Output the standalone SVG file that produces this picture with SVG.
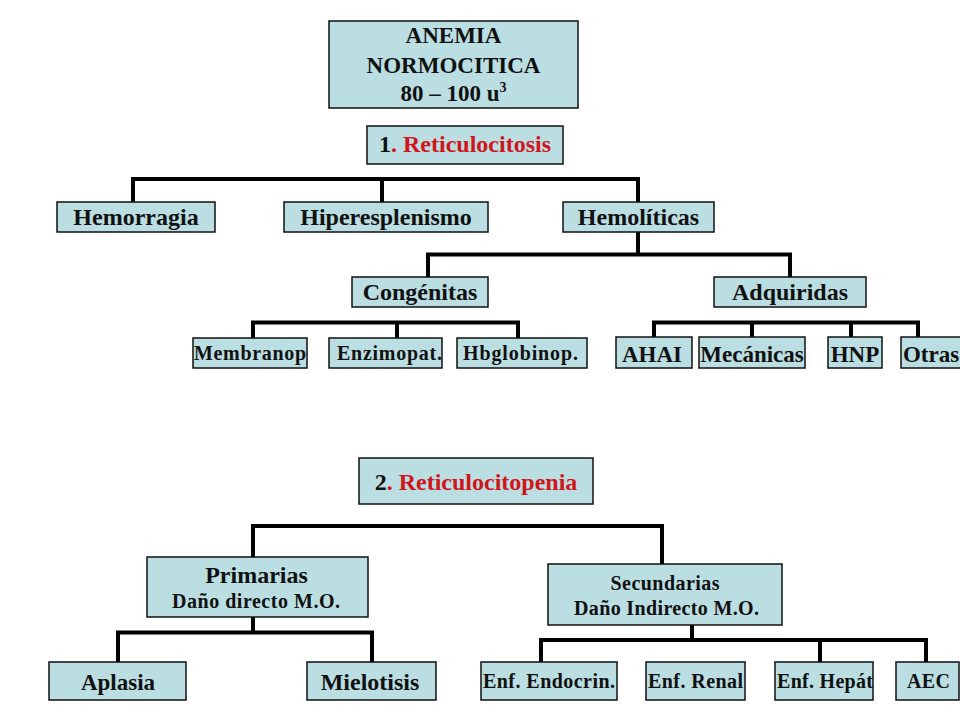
<svg xmlns="http://www.w3.org/2000/svg" width="960" height="720" viewBox="0 0 960 720">
<style>
  .box { fill: #bbdee3; stroke: #111; stroke-width: 1.5; }
  .t { font-family: "Liberation Serif", "Times New Roman", serif; font-weight: bold; fill: #111; text-anchor: middle; }
  .l { font-size: 24px; }
  .m { font-size: 23px; }
  .s { font-size: 20px; }
  .red { fill: #d0161a; }
  .conn { fill: none; stroke: #000; stroke-width: 4; stroke-linecap: square; stroke-linejoin: miter; }
</style>
<rect width="960" height="720" fill="#ffffff"/>

<g id="connectors">
  <path class="conn" d="M133 201 V179 H638 V201 M382 179 V201"/>
  <path class="conn" d="M638 233 V254.5 M428 276 V254.5 H790 V276"/>
  <path class="conn" d="M253 337 V322.5 H518 V337 M397 322.5 V337"/>
  <path class="conn" d="M654 336 V322.5 H918 V343 M752 322.5 V336 M851 322.5 V336"/>
  <path class="conn" d="M253 556 V526 H662 V563"/>
  <path class="conn" d="M253 618 V632.5 M118 661 V632.5 H372 V661"/>
  <path class="conn" d="M692 626 V640 M541 661 V640 H926 V661 M820 640 V661"/>
</g>

<g id="anemia">
  <rect class="box" x="329" y="21" width="249" height="87"/>
  <text class="t m" x="453.5" y="43">ANEMIA</text>
  <text class="t m" x="453.5" y="73">NORMOCITICA</text>
  <text class="t m" x="453.5" y="101">80 – 100 u<tspan font-size="14" dy="-9">3</tspan></text>
</g>
<g id="reticulocitosis">
  <rect class="box" x="367" y="126" width="196" height="38"/>
  <text class="t l" x="465" y="152">1<tspan class="red">. Reticulocitosis</tspan></text>
</g>

<g id="hemorragia">
  <rect class="box" x="57" y="202" width="158" height="30"/>
  <text class="t l" x="136" y="225">Hemorragia</text>
</g>
<g id="hiperesplenismo">
  <rect class="box" x="284" y="202" width="204" height="30"/>
  <text class="t l" x="386" y="225">Hiperesplenismo</text>
</g>
<g id="hemoliticas">
  <rect class="box" x="563" y="202" width="151" height="30"/>
  <text class="t l" x="638.5" y="225">Hemolíticas</text>
</g>

<g id="congenitas">
  <rect class="box" x="352" y="277" width="136" height="30"/>
  <text class="t l" x="420" y="300">Congénitas</text>
</g>
<g id="adquiridas">
  <rect class="box" x="714" y="277" width="152" height="30"/>
  <text class="t l" x="790" y="300">Adquiridas</text>
</g>

<g id="membranop">
  <rect class="box" x="193" y="338" width="114" height="30"/>
  <text class="t s" x="250" y="360" textLength="112" lengthAdjust="spacing">Membranop</text>
</g>
<g id="enzimopat">
  <rect class="box" x="329" y="338" width="113" height="30"/>
  <text class="t s" x="389.5" y="360" textLength="105" lengthAdjust="spacing">Enzimopat.</text>
</g>
<g id="hbglobinop">
  <rect class="box" x="457" y="338" width="130" height="30"/>
  <text class="t s" x="520.5" y="360" textLength="115" lengthAdjust="spacing">Hbglobinop.</text>
</g>

<g id="ahai">
  <rect class="box" x="616" y="337" width="76" height="31"/>
  <text class="t m" x="652" y="362">AHAI</text>
</g>
<g id="mecanicas">
  <rect class="box" x="699" y="337" width="106" height="31"/>
  <text class="t m" x="752" y="362">Mecánicas</text>
</g>
<g id="hnp">
  <rect class="box" x="828" y="337" width="54" height="31"/>
  <text class="t m" x="855" y="362">HNP</text>
</g>
<g id="otras">
  <rect class="box" x="901" y="337" width="64" height="31"/>
  <text class="t m" x="931" y="362">Otras</text>
</g>

<g id="reticulocitopenia">
  <rect class="box" x="359" y="458" width="234" height="46"/>
  <text class="t l" x="476" y="490">2<tspan class="red">. Reticulocitopenia</tspan></text>
</g>

<g id="primarias">
  <rect class="box" x="147" y="557" width="221" height="60"/>
  <text class="t l" x="256.5" y="583">Primarias</text>
  <text class="t s" x="256" y="608" textLength="168" lengthAdjust="spacing">Daño directo M.O.</text>
</g>
<g id="secundarias">
  <rect class="box" x="548" y="564" width="234" height="61"/>
  <text class="t s" x="665" y="590" textLength="109" lengthAdjust="spacing">Secundarias</text>
  <text class="t s" x="666.5" y="615" textLength="185" lengthAdjust="spacing">Daño Indirecto M.O.</text>
</g>

<g id="aplasia">
  <rect class="box" x="49" y="662" width="137" height="38"/>
  <text class="t m" x="118" y="690">Aplasia</text>
</g>
<g id="mielotisis">
  <rect class="box" x="307" y="662" width="129" height="38"/>
  <text class="t l" x="370" y="690">Mielotisis</text>
</g>

<g id="enf-endocrin">
  <rect class="box" x="481" y="662" width="136" height="38"/>
  <text class="t s" x="549" y="688" textLength="132" lengthAdjust="spacing">Enf. Endocrin.</text>
</g>
<g id="enf-renal">
  <rect class="box" x="646" y="662" width="99" height="38"/>
  <text class="t s" x="695.5" y="688" textLength="95" lengthAdjust="spacing">Enf. Renal</text>
</g>
<g id="enf-hepat">
  <rect class="box" x="775" y="662" width="98" height="38"/>
  <text class="t s" x="825" y="688" textLength="96" lengthAdjust="spacing">Enf. Hepát</text>
</g>
<g id="aec">
  <rect class="box" x="896" y="662" width="63" height="38"/>
  <text class="t s" x="928.5" y="688" textLength="43" lengthAdjust="spacing">AEC</text>
</g>
</svg>
